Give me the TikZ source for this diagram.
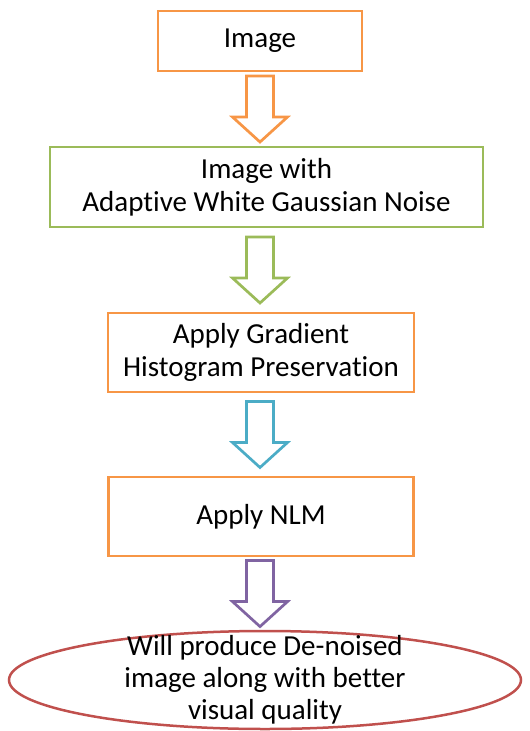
\documentclass[tikz,border=0pt]{standalone}
\usepackage{fontspec}
\setmainfont{Carlito}[Ligatures=NoCommon]
\usepackage{tikz}
\usetikzlibrary{shapes.geometric, calc}
\usepackage{xcolor}
\definecolor{orangeline}{RGB}{247,150,70}
\definecolor{greenline}{RGB}{155,187,89}
\definecolor{blueline}{RGB}{75,172,198}
\definecolor{purpleline}{RGB}{128,100,162}
\definecolor{redline}{RGB}{192,80,77}

% hollow block arrow from one node down to the next
\newcommand{\hollowarrow}[3]{%
  \coordinate (mid) at ($(#1.south)!0.5!(#2.north)$);
  \coordinate (m) at (img |- mid);
  \draw[fatarrow, draw=#3, shift={(m)}] (-13.5,-33) -- (13.5,-33) -- (13.5,8) -- (27.5,8)
    -- (0,33) -- (-27.5,8) -- (-13.5,8) -- cycle;
}

\begin{document}
\begin{tikzpicture}[
    x=1pt, y=-1pt,
    block/.style={rectangle, draw, line width=2.8pt, align=center, font=\fontsize{29}{33}\selectfont},
    fatarrow/.style={line width=2.7pt, fill=white, line join=miter}
]
\useasboundingbox (0,0) rectangle (530,731);

\node[block, draw=orangeline, minimum width=204pt, minimum height=60pt] (img) at (260,41) {Image};
\node[block, draw=greenline, minimum width=433pt, minimum height=80pt] (noisy) at (266.5,187) {Image with\\Adaptive White Gaussian Noise};
\node[block, draw=orangeline, minimum width=306pt, minimum height=79pt] (ghp) at (261,352.5) {Apply Gradient\\Histogram Preservation};
\node[block, draw=orangeline, minimum width=305pt, minimum height=79pt] (nlm) at (261,516.5) {Apply NLM};
\node[ellipse, draw=redline, line width=2.5pt, minimum width=512pt, minimum height=98pt] (result) at (265,680) {};
\node[align=center, font=\fontsize{29}{32}\selectfont] (resulttext) at (result.center) {Will produce De-noised\\image along with better\\visual quality};

\hollowarrow{img}{noisy}{orangeline}
\hollowarrow{noisy}{ghp}{greenline}
\hollowarrow{ghp}{nlm}{blueline}
\hollowarrow{nlm}{result}{purpleline}
\end{tikzpicture}
\end{document}
